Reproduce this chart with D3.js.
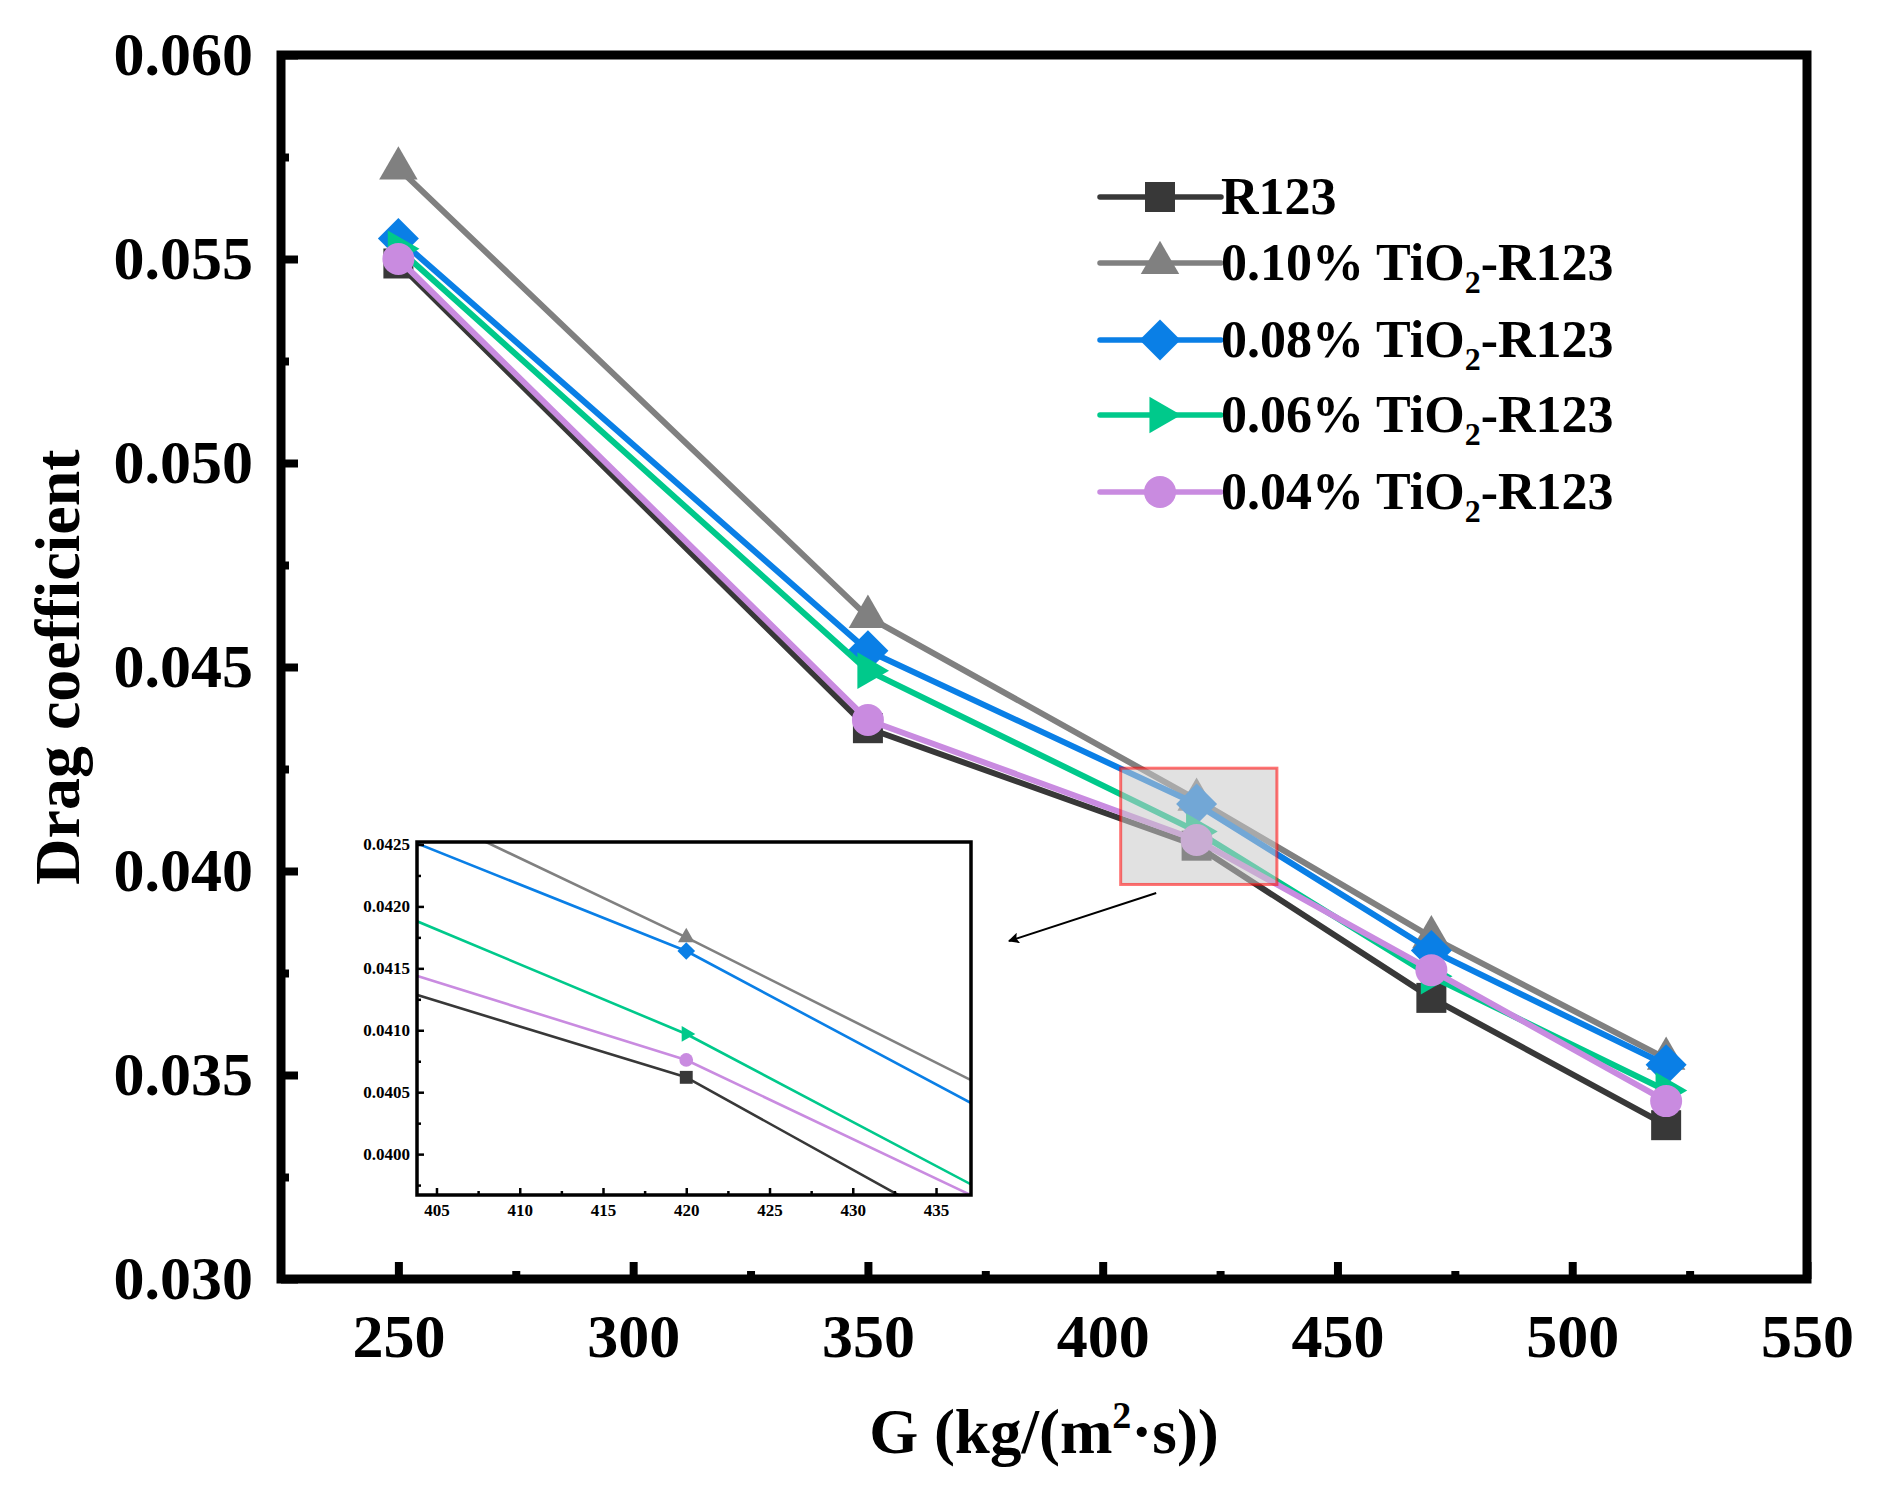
<!DOCTYPE html>
<html>
<head>
<meta charset="utf-8">
<script src="https://d3js.org/d3.v7.min.js"></script>
<style>
  body { margin: 0; background: #fff; }
  text { font-family: 'Liberation Serif', 'Times New Roman', serif; font-weight: bold; }
</style>
</head>
<body>
<div id="chart"></div>
<script>
// mass flux G, kg/(m2 s)
const gValues = [250, 350, 420, 470, 520];

const seriesNames = ['R123', '0.10%', '0.08%', '0.06%', '0.04%'];
const r123    = [0.05489, 0.04350, 0.04062, 0.03689, 0.03377];
const tio2_10 = [0.05722, 0.04623, 0.04175, 0.03838, 0.03540];
const tio2_08 = [0.05550, 0.04540, 0.04164, 0.03805, 0.03525];
const tio2_06 = [0.05525, 0.04491, 0.04097, 0.03742, 0.03462];
const tio2_04 = [0.05500, 0.04370, 0.04076, 0.03757, 0.03436];

const xTicks = [250, 300, 350, 400, 450, 500, 550];
const yTicks = [0.030, 0.035, 0.040, 0.045, 0.050, 0.055, 0.060];
const insetXTicks = [405, 410, 415, 420, 425, 430, 435];
const insetYTicks = [0.0400, 0.0405, 0.0410, 0.0415, 0.0420, 0.0425];

const colors = ['#383838', '#808080', '#0a7fe6', '#00c98b', '#c98be0'];
const allSeries = [r123, tio2_10, tio2_08, tio2_06, tio2_04];

const width = 1888;
const height = 1502;
const margin = { top: 55, right: 81, bottom: 223, left: 281 };

const svg = d3.select('#chart')
  .append('svg')
  .attr('width', width)
  .attr('height', height);

svg.append('rect').attr('width', width).attr('height', height).attr('fill', '#fff');

const x = d3.scaleLinear().domain([225, 550]).range([margin.left, width - margin.right]);
const y = d3.scaleLinear().domain([0.030, 0.060]).range([height - margin.bottom, margin.top]);

// marker shapes: square, triangle, diamond, right triangle, circle
function markerPath(i, k) {
  const s = k * k;
  if (i === 0) return d3.symbol().type(d3.symbolSquare).size(900 * s)();
  if (i === 1) return d3.symbol().type(d3.symbolTriangle).size(640 * s)();
  if (i === 2) return d3.symbol().type(d3.symbolSquare).size(840 * s)();
  if (i === 3) return d3.symbol().type(d3.symbolTriangle).size(580 * s)();
  return d3.symbol().type(d3.symbolCircle).size(804 * s)();
}
const markerRot = [0, 0, 45, 90, 0];

function drawSeries(g, xs, ys, k, lw) {
  allSeries.forEach((vals, i) => {
    const pts = gValues.map((gv, j) => [gv, vals[j]]);
    g.append('path')
      .datum(pts)
      .attr('fill', 'none')
      .attr('stroke', colors[i])
      .attr('stroke-width', lw)
      .attr('stroke-linejoin', 'round')
      .attr('d', d3.line().x(d => xs(d[0])).y(d => ys(d[1])));
    g.selectAll('.m' + i)
      .data(pts)
      .enter().append('path')
      .attr('class', 'm' + i)
      .attr('d', markerPath(i, k))
      .attr('transform', d => `translate(${xs(d[0])},${ys(d[1])}) rotate(${markerRot[i]})`)
      .attr('fill', colors[i]);
  });
}

// main series
const main = svg.append('g');
drawSeries(main, x, y, 1, 6);

// highlighted zoom region
const insetX = d3.scaleLinear().domain([403.83, 437.1]).range([417, 971]);
const insetY = d3.scaleLinear().domain([0.03967, 0.04252]).range([1195, 842]);

svg.append('rect')
  .attr('x', x(insetX.domain()[0]))
  .attr('y', y(insetY.domain()[1]))
  .attr('width', x(insetX.domain()[1]) - x(insetX.domain()[0]))
  .attr('height', y(insetY.domain()[0]) - y(insetY.domain()[1]))
  .attr('fill', '#c8c8c8')
  .attr('fill-opacity', 0.55)
  .attr('stroke', 'rgba(255,0,0,0.55)')
  .attr('stroke-width', 3);

// arrow
svg.append('defs').append('marker')
  .attr('id', 'arrow')
  .attr('viewBox', '0 0 10 10')
  .attr('refX', 9).attr('refY', 5)
  .attr('markerWidth', 11).attr('markerHeight', 11)
  .attr('markerUnits', 'userSpaceOnUse')
  .attr('orient', 'auto')
  .append('path')
  .attr('d', 'M0,0 L10,5 L0,10 L2,5 Z')
  .attr('fill', '#000');

svg.append('line')
  .attr('x1', x(411.4)).attr('y1', y(0.03946))
  .attr('x2', insetX.range()[1] + 38).attr('y2', 941)
  .attr('stroke', '#000')
  .attr('stroke-width', 2)
  .attr('marker-end', 'url(#arrow)');

// axes
const xAxis = svg.append('g')
  .attr('transform', `translate(0,${height - margin.bottom})`)
  .call(d3.axisBottom(x).tickValues(xTicks).tickSizeInner(-17).tickSizeOuter(0));
xAxis.select('.domain').remove();
xAxis.selectAll('line').attr('stroke-width', 8);
xAxis.selectAll('text').attr('y', 78).attr('dy', 0).style('font-size', '62px').attr('fill', '#000');

const xMinor = svg.append('g')
  .attr('transform', `translate(0,${height - margin.bottom})`)
  .call(d3.axisBottom(x).tickValues(d3.range(275, 550, 50)).tickSizeInner(-8).tickSizeOuter(0).tickFormat(''));
xMinor.select('.domain').remove();
xMinor.selectAll('line').attr('stroke-width', 8);

const yAxis = svg.append('g')
  .attr('transform', `translate(${margin.left},0)`)
  .call(d3.axisLeft(y).tickValues(yTicks).tickFormat(d3.format('.3f')).tickSizeInner(-17).tickSizeOuter(0));
yAxis.select('.domain').remove();
yAxis.selectAll('line').attr('stroke-width', 8);
yAxis.selectAll('text').attr('x', -28).style('font-size', '62px').attr('fill', '#000');

const yMinor = svg.append('g')
  .attr('transform', `translate(${margin.left},0)`)
  .call(d3.axisLeft(y).tickValues(d3.range(0.0325, 0.06, 0.005)).tickSizeInner(-8).tickSizeOuter(0).tickFormat(''));
yMinor.select('.domain').remove();
yMinor.selectAll('line').attr('stroke-width', 8);

// frame
svg.append('rect')
  .attr('x', margin.left).attr('y', margin.top)
  .attr('width', width - margin.left - margin.right)
  .attr('height', height - margin.top - margin.bottom)
  .attr('fill', 'none')
  .attr('stroke', '#000')
  .attr('stroke-width', 9);

// axis titles
const xTitle = svg.append('text')
  .attr('x', (margin.left + width - margin.right) / 2)
  .attr('y', 1453)
  .attr('text-anchor', 'middle')
  .style('font-size', '63px');
xTitle.append('tspan').text('G (kg/(m');
xTitle.append('tspan').text('2').style('font-size', '38px').attr('dy', -25);
xTitle.append('tspan').text('·s))').attr('dy', 25);

svg.append('text')
  .attr('transform', `translate(79,${(margin.top + height - margin.bottom) / 2}) rotate(-90)`)
  .attr('text-anchor', 'middle')
  .style('font-size', '64px')
  .text('Drag coefficient');

// legend
const legendY = [197, 263, 340, 415, 492];
const legend = svg.append('g');
seriesNames.forEach((name, i) => {
  const ly = legendY[i];
  legend.append('line')
    .attr('x1', 1100).attr('x2', 1221)
    .attr('y1', ly).attr('y2', ly)
    .attr('stroke', colors[i])
    .attr('stroke-width', 5.5)
    .attr('stroke-linecap', 'round');
  legend.append('path')
    .attr('d', markerPath(i, 1))
    .attr('transform', `translate(1160,${ly}) rotate(${markerRot[i]})`)
    .attr('fill', colors[i]);
  const t = legend.append('text')
    .attr('x', 1221).attr('y', ly + 17)
    .style('font-size', '52px');
  if (i === 0) {
    t.text(name);
  } else {
    t.append('tspan').text(name + ' TiO');
    t.append('tspan').text('2').style('font-size', '32px').attr('dy', 13);
    t.append('tspan').text('-R123').attr('dy', -13);
  }
});

// inset
const inset = svg.append('g');
const [ix0, ix1] = insetX.range();
const [iy1, iy0] = insetY.range();
inset.append('rect')
  .attr('x', ix0).attr('y', iy0)
  .attr('width', ix1 - ix0).attr('height', iy1 - iy0)
  .attr('fill', '#fff');

svg.append('defs').append('clipPath').attr('id', 'insetClip')
  .append('rect')
  .attr('x', ix0).attr('y', iy0)
  .attr('width', ix1 - ix0).attr('height', iy1 - iy0);

const insetData = inset.append('g').attr('clip-path', 'url(#insetClip)');
drawSeries(insetData, insetX, insetY, 0.43, 2.6);

const ixAxis = inset.append('g')
  .attr('transform', `translate(0,${iy1})`)
  .call(d3.axisBottom(insetX).tickValues(insetXTicks).tickSizeInner(-7).tickSizeOuter(0));
ixAxis.select('.domain').remove();
ixAxis.selectAll('line').attr('stroke-width', 2.5);
ixAxis.selectAll('text').attr('y', 21).attr('dy', 0).style('font-size', '17px').attr('fill', '#000');

const ixMinor = inset.append('g')
  .attr('transform', `translate(0,${iy1})`)
  .call(d3.axisBottom(insetX).tickValues(d3.range(407.5, 437, 5)).tickSizeInner(-4).tickSizeOuter(0).tickFormat(''));
ixMinor.select('.domain').remove();
ixMinor.selectAll('line').attr('stroke-width', 2.5);

const iyAxis = inset.append('g')
  .attr('transform', `translate(${ix0},0)`)
  .call(d3.axisLeft(insetY).tickValues(insetYTicks).tickFormat(d3.format('.4f')).tickSizeInner(-7).tickSizeOuter(0));
iyAxis.select('.domain').remove();
iyAxis.selectAll('line').attr('stroke-width', 2.5);
iyAxis.selectAll('text').attr('x', -7).style('font-size', '17px').attr('fill', '#000');

const iyMinor = inset.append('g')
  .attr('transform', `translate(${ix0},0)`)
  .call(d3.axisLeft(insetY).tickValues(d3.range(0.03975, 0.0425, 0.0005)).tickSizeInner(-4).tickSizeOuter(0).tickFormat(''));
iyMinor.select('.domain').remove();
iyMinor.selectAll('line').attr('stroke-width', 2.5);

inset.append('rect')
  .attr('x', ix0).attr('y', iy0)
  .attr('width', ix1 - ix0).attr('height', iy1 - iy0)
  .attr('fill', 'none')
  .attr('stroke', '#000')
  .attr('stroke-width', 3.5);
</script>
</body>
</html>
